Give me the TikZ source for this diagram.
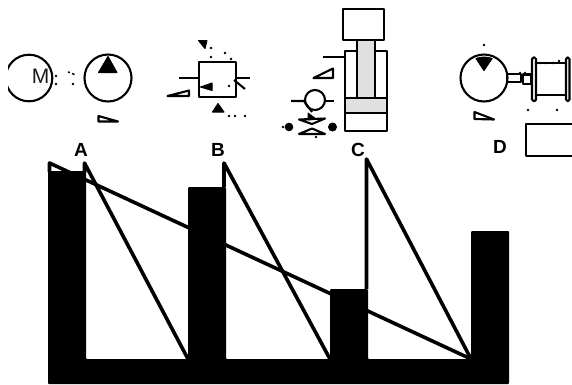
\documentclass[tikz,border=0pt]{standalone}
\usepackage{fontspec}
\setmainfont{Liberation Sans}
\tikzset{
    symbol/.style={draw=black,line width=2.1pt,line join=round},
    trace/.style={draw=black,line width=3.6pt,line join=round},
    solidfill/.style={fill=black,draw=black,line width=1pt,line join=round},
    grayfill/.style={symbol,fill=black!12},
    letter/.style={font=\bfseries\fontsize{19}{19}\selectfont,inner sep=0pt},
    motorletter/.style={font=\fontsize{21}{21}\selectfont,inner sep=0pt,text=black!90}
}
\begin{document}
\begin{tikzpicture}[x=1pt,y=-1pt]
            \useasboundingbox (0,0) rectangle (572,384);
            \begin{scope}
                \clip (8,0) rectangle (572,384);
                \draw[symbol] (29,78) circle (23.3);
                \draw[symbol] (576,124) -- (526,124) -- (526,156) -- (576,156);
            \end{scope}
            \node[motorletter] (motor) at (40.5,76.5) {M};
            \draw[symbol] (108,78) circle (23.5);
            \fill[solidfill] (108,56.5) -- (117,72.5) -- (98.5,72.5) -- cycle;
            \draw[symbol] (98.5,116) -- (98.5,121.5) -- (118,121.5) -- cycle;
            \draw[symbol] (199,62) rectangle (236,97);
            \draw[symbol] (179,78) -- (199,78);
            \draw[symbol] (236,78) -- (250,78);
            \draw[symbol] (234,80) -- (245,89);
            \fill[solidfill] (200.5,87) -- (212,83) -- (212,90.5) -- cycle;
            \draw[symbol] (167.5,96) -- (189,90.5) -- (189,96) -- cycle;
            \fill[solidfill] (198.5,40.5) -- (207,40.5) -- (205,48.5) -- cycle;
            \fill[solidfill] (218,103.5) -- (224,112) -- (212.5,112) -- cycle;
            \draw[grayfill,fill=white] (343,9) rectangle (384,40);
            \draw[symbol] (345,51) rectangle (387,131);
            \draw[grayfill] (357,40) rectangle (375,98);
            \draw[grayfill] (345,98) rectangle (387,113);
            \draw[symbol] (323,57) -- (344,57);
            \draw[symbol] (313.5,78) -- (333,68.5) -- (333,78) -- cycle;
            \draw[symbol] (315,100) circle (10);
            \draw[symbol] (291,101) -- (304,101) -- (312,112);
            \draw[symbol] (325,101) -- (333.5,101);
            \fill[solidfill] (308,113) -- (316,119) -- (308,120) -- cycle;
            \draw[symbol] (299,119.5) -- (325,118.5) -- (312,124) -- cycle;
            \draw[symbol] (299,134) -- (325,134) -- (312,128.5) -- cycle;
            \fill (289,127) circle (4.3);
            \fill (332.5,127) circle (4.5);
            \draw[symbol] (484,78) circle (23.5);
            \fill[solidfill] (476,58.5) arc[start angle=-110,end angle=-70,radius=23.5] -- (484,70.5) -- cycle;
            \draw[symbol] (507,74) rectangle (521,82);
            \draw[symbol] (523,74.5) rectangle (531,84);
            \draw[symbol] (536,63) rectangle (566,95);
            \draw[symbol,rounded corners=1.5pt] (532,57.5) rectangle (536,101);
            \draw[symbol,rounded corners=1.5pt] (566,57.5) rectangle (569.5,101);
            \draw[symbol] (474.5,112) -- (474.5,119) -- (494,119.5) -- cycle;
            \foreach \px/\py in {56/76,56/84,73/84,211/48,211/57,225/53,231/59,229/86,229/116,235/116,245/116,283/127,316/137,484/45,540/63,546/63,553/63,559/61,520/73,525/73,528/110,557/110}
                \fill (\px,\py) circle (1.3);
            \draw[line width=1.4pt] (68,72) -- (70,72.5);
            \draw[line width=1.4pt] (72,73.5) -- (74.5,74.5);
            \node[letter] (labela) at (81,150) {A};
            \node[letter] (labelb) at (218,150) {B};
            \node[letter] (labelc) at (358,150) {C};
            \node[letter] (labeld) at (500,147) {D};
            \fill[rounded corners=1pt] (48,384) -- (48,171) -- (86,171) -- (86,359) -- (188,359) -- (188,187) -- (226,187) -- (226,359)
                -- (330,359) -- (330,289) -- (368,289) -- (368,359) -- (471,359) -- (471,231) -- (509,231) -- (509,384) -- cycle;
            \draw[trace] (49.5,172) -- (49.5,163) -- (471,359);
            \draw[trace] (84.5,172) -- (84.5,163) -- (188,359);
            \draw[trace] (224,187) -- (224,163) -- (330,359);
            \draw[trace] (366.5,289) -- (366.5,159) -- (471,359);
        \end{tikzpicture}
\end{document}
